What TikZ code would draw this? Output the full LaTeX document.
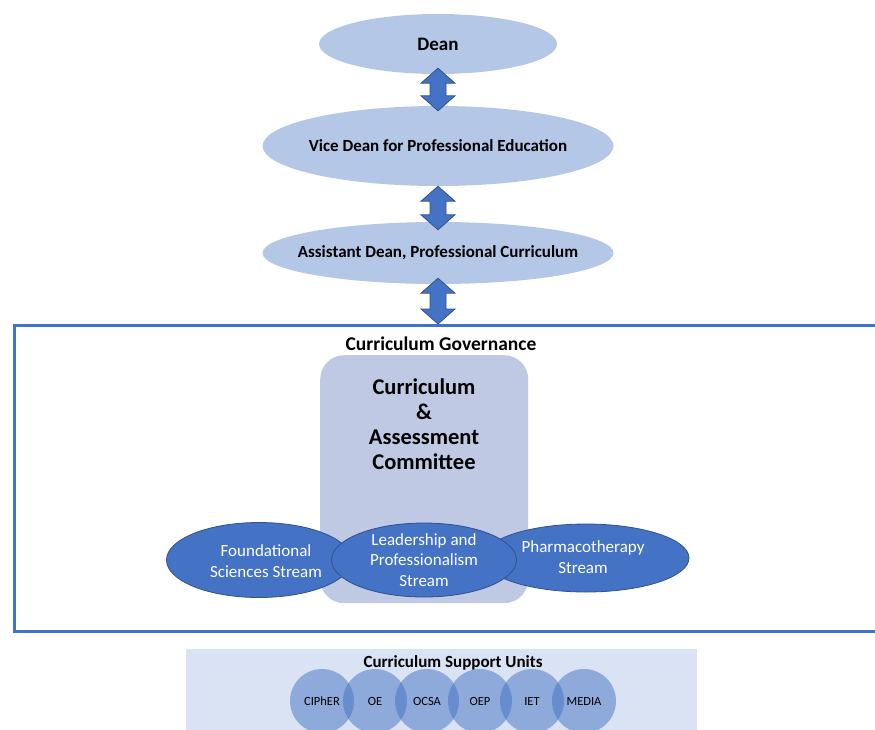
\documentclass[tikz,border=0pt]{standalone}
\usepackage{fontspec}
\setmainfont{Carlito}
\usetikzlibrary{shapes.geometric,calc}
\definecolor{lightell}{HTML}{B4C7E7}
\definecolor{accent}{HTML}{4472C4}
\definecolor{accentdark}{HTML}{2F528F}
\definecolor{committee}{HTML}{BFC9E3}
\definecolor{supportbg}{HTML}{DAE3F3}
\tikzset{
  topell/.style={ellipse, fill=lightell, draw=none, inner sep=0pt},
  toptext/.style={font=\bfseries\fontsize{17}{20}\selectfont, inner sep=0pt},
  streamell/.style={ellipse, fill=accent, draw=accentdark, line width=0.8pt, inner sep=0pt},
  streamtext/.style={text=white, align=center, font=\fontsize{17}{21}\selectfont, inner sep=0pt},
  unitcirc/.style={circle, minimum size=64pt, fill=accent, fill opacity=0.5, text opacity=1, inner sep=0pt, font=\fontsize{12.5}{14}\selectfont},
  arrowshape/.style={fill=accent, draw=accentdark, line width=0.8pt, line join=miter},
}
\newcommand{\dblarrow}[2]{%
  \path[arrowshape] let \p1=(#1), \p2=(#2) in
    (\x1,\y1) -- (\x1+17pt,\y1-15pt) -- (\x1+8pt,\y1-15pt) -- (\x1+8pt,\y2+15pt) -- (\x1+17pt,\y2+15pt)
    -- (\x1,\y2) -- (\x1-17pt,\y2+15pt) -- (\x1-8pt,\y2+15pt) -- (\x1-8pt,\y1-15pt) -- (\x1-17pt,\y1-15pt) -- cycle;}
\begin{document}
\begin{tikzpicture}[x=1pt,y=-1pt]
\useasboundingbox (0,0) rectangle (875,729);
% top hierarchy
\node[topell, minimum width=238pt, minimum height=60pt] (dean) at (438,44) {};
\node[toptext, font=\bfseries\fontsize{19}{22}\selectfont] (deantext) at (dean.center) {Dean};
\node[topell, minimum width=351pt, minimum height=80pt] (vice) at (438,146) {};
\node[toptext] (vicetext) at (vice.center) {Vice Dean for Professional Education};
\node[topell, minimum width=351pt, minimum height=62pt] (asst) at (438,253) {};
\node[toptext] (assttext) at (asst.center) {Assistant Dean, Professional Curriculum};
% governance box
\node[draw=accent, line width=2.5pt, minimum width=900pt, minimum height=306pt, anchor=north west, inner sep=0pt] (gov) at (13,324) {};
\node[font=\bfseries\fontsize{19.5}{22}\selectfont] (govtitle) at (441,344) {Curriculum Governance};
% committee
\node[fill=committee, rounded corners=24pt, minimum width=208pt, minimum height=248pt, anchor=north west, inner sep=0pt] (comm) at (320,355) {};
\node[font=\bfseries\fontsize{22.5}{25}\selectfont, align=center] (commtext) at (424,424) {Curriculum\\\&\\Assessment\\Committee};
% streams
\node[streamell, minimum width=185pt, minimum height=75pt] (found) at (259,560) {};
\node[streamtext] (foundtext) at (266,561) {Foundational\\Sciences Stream};
\node[streamell, minimum width=206pt, minimum height=68pt] (pharm) at (586,558) {};
\node[streamtext] (pharmtext) at (583,557) {Pharmacotherapy\\Stream};
\node[streamell, minimum width=185pt, minimum height=74pt] (lead) at (424,560) {};
\node[streamtext, font=\fontsize{17}{20.5}\selectfont] (leadtext) at (424,560) {Leadership and\\Professionalism\\Stream};
% arrows
\coordinate (a1t) at ([yshift=6pt]dean.south);
\coordinate (a1b) at ([yshift=-5pt]vice.north);
\coordinate (a2t) at (vice.south);
\coordinate (a2b) at ([yshift=-8pt]asst.north);
\coordinate (a3t) at ([yshift=6pt]asst.south);
\coordinate (a3b) at (gov.north -| asst.south);
\dblarrow{a1t}{a1b}
\dblarrow{a2t}{a2b}
\dblarrow{a3t}{a3b}
% support units
\node[fill=supportbg, minimum width=511pt, minimum height=90pt, anchor=north west, inner sep=0pt] (sup) at (186,649) {};
\node[font=\bfseries\fontsize{17}{19}\selectfont] (suptitle) at (453,663) {Curriculum Support Units};
\node[unitcirc] (u1) at (322,701) {CIPhER};
\node[unitcirc] (u2) at (375,701) {OE};
\node[unitcirc] (u3) at (427,701) {OCSA};
\node[unitcirc] (u4) at (480,701) {OEP};
\node[unitcirc] (u5) at (532,701) {IET};
\node[unitcirc] (u6) at (584,701) {MEDIA};
\end{tikzpicture}
\end{document}
